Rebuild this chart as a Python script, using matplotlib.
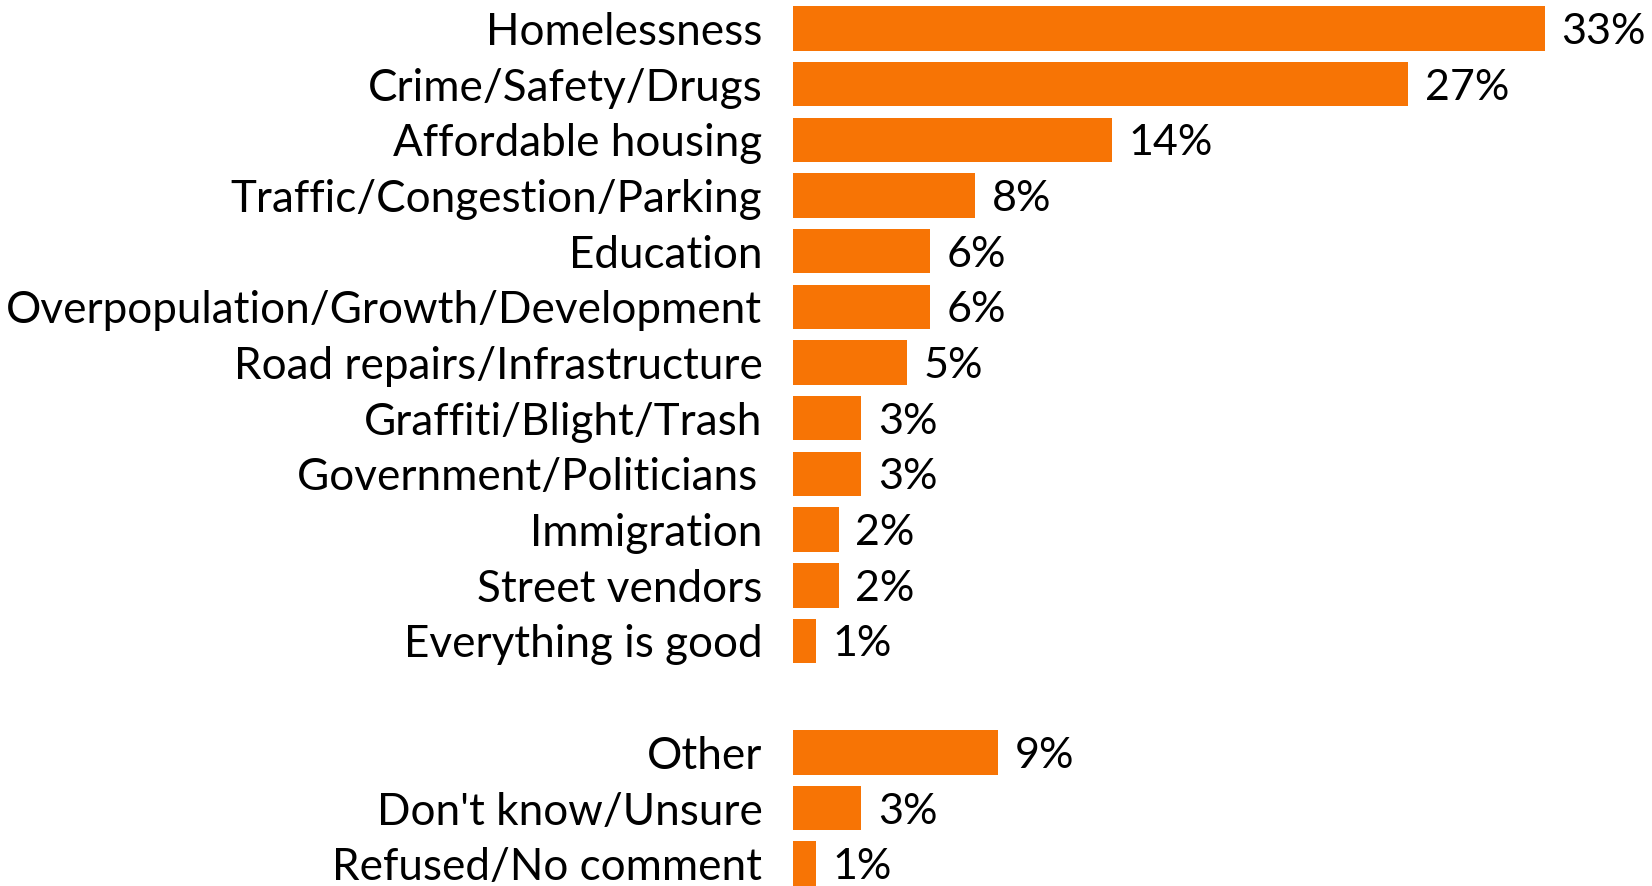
import matplotlib
matplotlib.use("Agg")
import matplotlib.pyplot as plt

categories = [
    "Homelessness",
    "Crime/Safety/Drugs",
    "Affordable housing",
    "Traffic/Congestion/Parking",
    "Education",
    "Overpopulation/Growth/Development",
    "Road repairs/Infrastructure",
    "Graffiti/Blight/Trash",
    "Government/Politicians\u2009",
    "Immigration",
    "Street vendors",
    "Everything is good",
    "Other",
    "Don't know/Unsure",
    "Refused/No comment",
]
values = [33, 27, 14, 8, 6, 6, 5, 3, 3, 2, 2, 1, 9, 3, 1]
# row positions: a blank row separates the last three
positions = list(range(12)) + [13, 14, 15]

plt.rcParams["font.family"] = ["Lato", "DejaVu Sans"]

fig = plt.figure(figsize=(16.52, 8.86), dpi=100)
ax = fig.add_axes([0.48, 0.0, 0.52, 1.0])

ax.barh(positions, values, height=0.8, color="#F77405", edgecolor="none")

for y, v in zip(positions, values):
    ax.annotate(f"{v}%", (v, y), xytext=(12, 0), textcoords="offset points",
                ha="left", va="center_baseline", fontsize=31, color="black")

ax.set_yticks(positions)
ax.set_yticklabels(categories, fontsize=31.7)
ax.tick_params(axis="y", length=0, pad=22)
ax.set_xticks([])
ax.set_xlim(0, 37.7)
ax.set_ylim(15.4, -0.51)
for s in ax.spines.values():
    s.set_visible(False)

fig.savefig("out.png", dpi=100)
